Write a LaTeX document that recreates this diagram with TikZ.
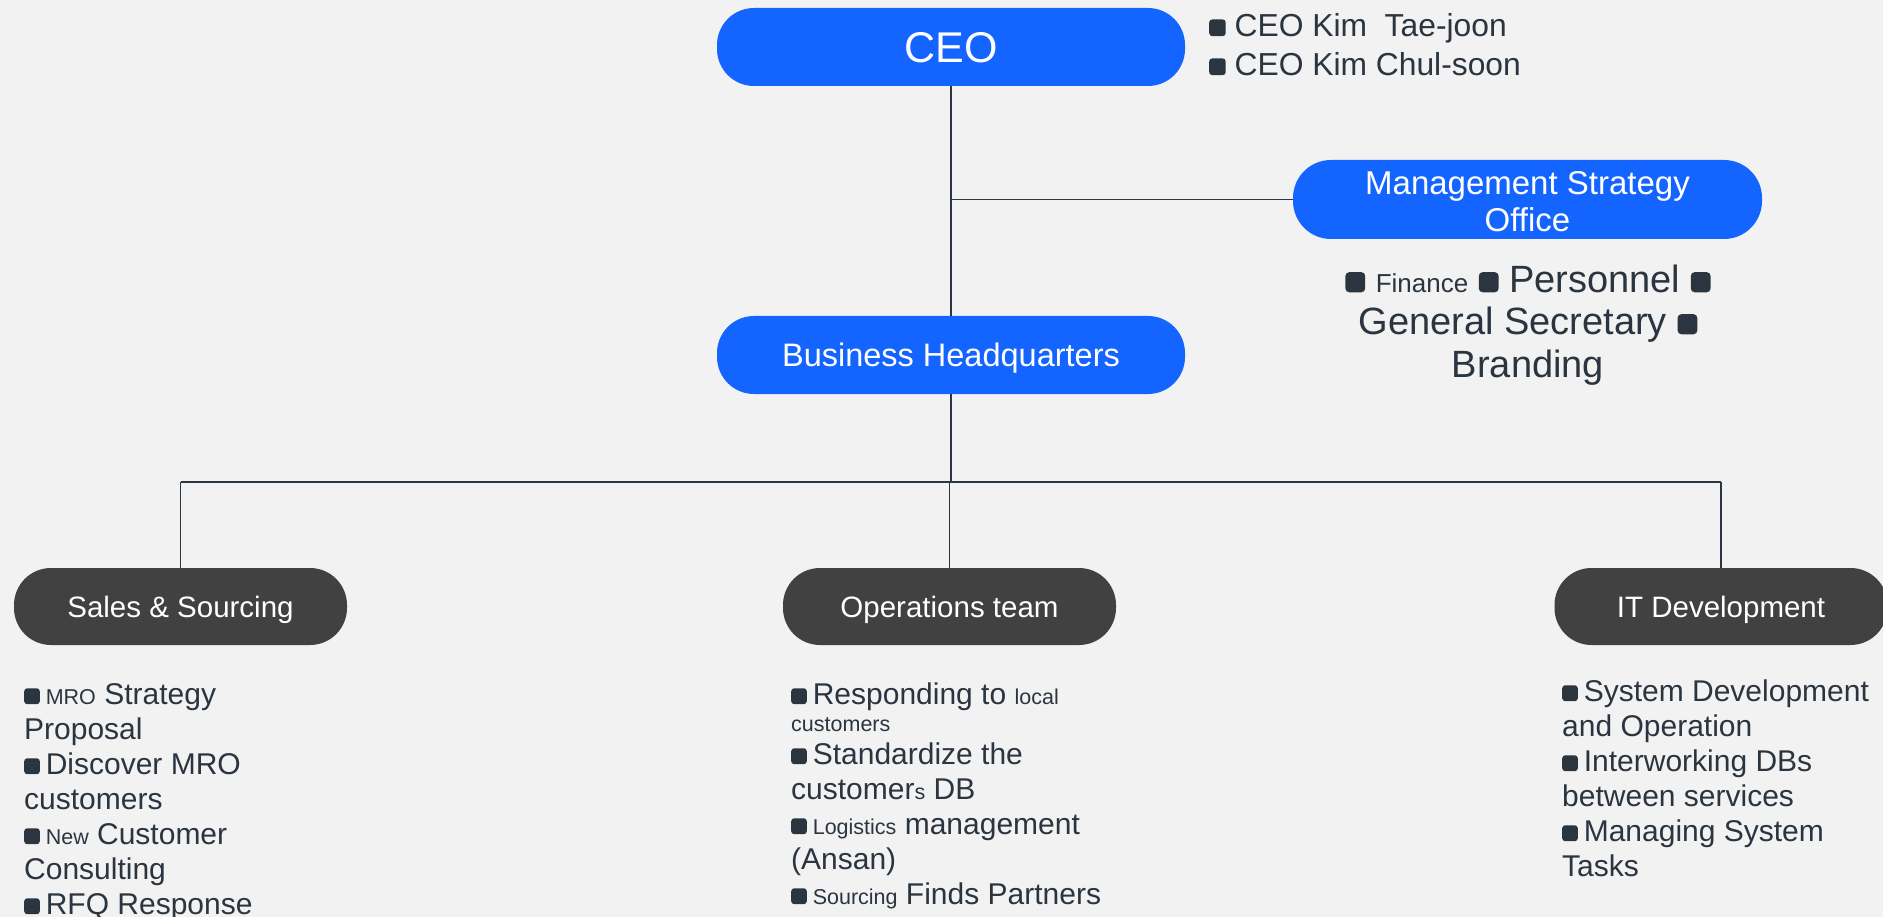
\documentclass[tikz,border=0pt]{standalone}
\usepackage{fontspec}
\setmainfont{Liberation Sans}
\definecolor{bg}{HTML}{F2F2F2}
\definecolor{blueA}{HTML}{1464FF}
\definecolor{darkA}{HTML}{414141}
\definecolor{txt}{HTML}{2B3540}
\definecolor{lineA}{HTML}{2D3741}
\newcommand{\sqb}{\tikz[x=1em,y=1em,baseline=0pt]\fill[txt,rounded corners=0.1em] (0,0) rectangle (0.52,0.53);}
\newcommand{\lb}{\sqb\hspace{6pt}}
\newcommand{\sm}[1]{{\fontsize{21.5}{25}\selectfont #1}}
\begin{document}
\begin{tikzpicture}[x=1pt,y=-1pt,
  bluebox/.style={fill=blueA, rounded corners=37pt, text=white, minimum width=468pt, minimum height=78pt, inner sep=0pt, align=center, text depth=0pt},
  darkbox/.style={fill=darkA, rounded corners=37pt, text=white, minimum width=333pt, minimum height=77pt, inner sep=0pt, text height=21.2pt, text depth=0pt, font=\fontsize{29.5}{35}\selectfont},
  listtext/.style={text=txt, align=left, anchor=north west, inner sep=0pt, font=\fontsize{30}{35}\selectfont},
  conn/.style={draw=lineA, line width=1.4pt}]
\useasboundingbox (0,0) rectangle (1883,917);
\fill[bg] (0,0) rectangle (1883,917);

\node[bluebox, text height=31pt, font=\fontsize{43}{50}\selectfont] (ceo) at (951,47) {CEO};
\node[bluebox, text height=23.4pt, font=\fontsize{32.5}{37}\selectfont] (bhq) at (951,355) {Business Headquarters};
\node[fill=blueA, rounded corners=38pt, minimum width=469pt, minimum height=79pt, inner sep=0pt] (mso) at (1527.5,199.5) {};
\node[text=white, align=center, inner sep=0pt, font=\fontsize{33}{37}\selectfont] (msotext) at (1527.5,202) {Management Strategy\\Office};

\node[text=txt, align=left, anchor=north west, inner sep=0pt, font=\fontsize{31.8}{39}\selectfont] (names) at (1209,8.7)
  {\strut\sqb\ CEO Kim\ \ Tae-joon\\\sqb\ CEO Kim Chul-soon};

\node[text=txt, align=center, anchor=north, inner sep=0pt, font=\fontsize{38}{43}\selectfont] (msolist) at (1528,262)
  {\strut\sqb\ {\fontsize{26}{30}\selectfont Finance} \sqb\ Personnel \sqb\\[-1pt]
   General Secretary \sqb\\
   Branding};

\node[darkbox] (sales) at (180.5,606.5) {Sales \& Sourcing};
\node[darkbox] (ops) at (949.5,606.5) {Operations team};
\node[darkbox] (it) at (1721,606.5) {IT Development};

\node[listtext] (saleslist) at (24,679.5)
  {\strut\lb\sm{MRO} Strategy\\
   Proposal\\
   \lb Discover MRO\\
   customers\\
   \lb\sm{New} Customer\\
   Consulting\\
   \lb RFQ Response};

\node[listtext] (opslist) at (791,679.5)
  {\strut\lb Responding to \sm{local}\\[-8pt]
   \sm{customers}\\[-2pt]
   \lb Standardize the\\
   customer\sm{s} DB\\
   \lb\sm{Logistics} management\\
   (Ansan)\\
   \lb\sm{Sourcing} Finds Partners};

\node[listtext] (itlist) at (1562,676.5)
  {\strut\lb System Development\\
   and Operation\\
   \lb Interworking DBs\\
   between services\\
   \lb Managing System\\
   Tasks};

\coordinate (bus) at (951,482);
\draw[conn] (ceo.south) -- (bhq.north);
\draw[conn] (ceo.south |- mso.west) -- (mso.west);
\draw[conn] (bhq.south) -- (bus);
\draw[conn] (sales.north |- bus) -- (it.north |- bus);
\draw[conn] (sales.north |- bus) -- (sales.north);
\draw[conn] (ops.north |- bus) -- (ops.north);
\draw[conn] (it.north |- bus) -- (it.north);
\end{tikzpicture}
\end{document}
